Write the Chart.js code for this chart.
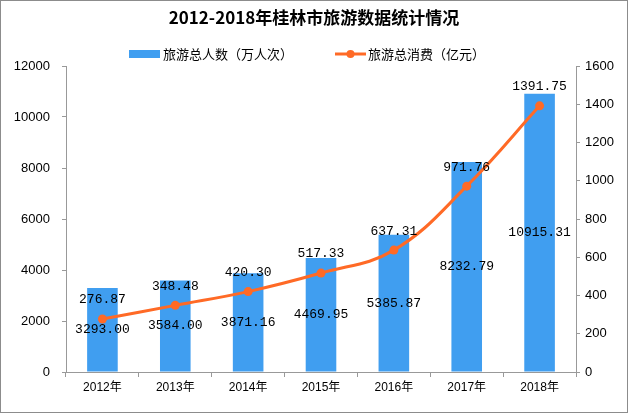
<!DOCTYPE html>
<html>
<head>
<meta charset="utf-8">
<script src="https://cdn.jsdelivr.net/npm/chart.js@4/dist/chart.umd.min.js"></script>
<style>
  html, body { margin: 0; padding: 0; background: #fff; }
  #wrap { width: 628px; height: 413px; position: relative; }
</style>
</head>
<body>
<div id="wrap"><canvas id="chart" width="628" height="413"></canvas></div>
<script>
// chart data
const years = ['2012年', '2013年', '2014年', '2015年', '2016年', '2017年', '2018年'];
const visitors = [3293.00, 3584.00, 3871.16, 4469.95, 5385.87, 8232.79, 10915.31];
const spending = [276.87, 348.48, 420.30, 517.33, 637.31, 971.76, 1391.75];
const visitorsLabel = '旅游总人数（万人次）';
const spendingLabel = '旅游总消费（亿元）';

const barColor = '#409EF0';
const lineColor = '#FF6A26';
const axisColor = '#999999';
const cjk = '"Liberation Sans", "Noto Sans CJK SC", sans-serif';

// draws value labels, legend and outer border
const extras = {
    id: 'extras',
    afterDatasetsDraw(chart) {
        const ctx = chart.ctx;
        ctx.save();
        ctx.font = '13px "Liberation Mono", "DejaVu Sans Mono", monospace';
        ctx.fillStyle = '#000';
        ctx.textAlign = 'center';
        ctx.textBaseline = 'middle';

        const bars = chart.getDatasetMeta(0).data;
        bars.forEach((bar, i) => {
            ctx.fillText(visitors[i].toFixed(2), bar.x, (bar.y + bar.base) / 2);
        });
        const pts = chart.getDatasetMeta(1).data;
        pts.forEach((pt, i) => {
            ctx.fillText(spending[i].toFixed(2), pt.x, pt.y - 19);
        });

        // legend
        ctx.font = '13px "Noto Sans CJK SC", sans-serif';
        ctx.textAlign = 'left';
        ctx.fillStyle = barColor;
        ctx.fillRect(129, 50, 31, 8);
        ctx.fillStyle = '#000';
        ctx.fillText(visitorsLabel, 163, 54);

        ctx.strokeStyle = lineColor;
        ctx.lineWidth = 3;
        ctx.beginPath();
        ctx.moveTo(335, 54);
        ctx.lineTo(366, 54);
        ctx.stroke();
        ctx.fillStyle = lineColor;
        ctx.beginPath();
        ctx.arc(350.5, 54, 4, 0, Math.PI * 2);
        ctx.fill();
        ctx.fillStyle = '#000';
        ctx.fillText(spendingLabel, 368, 54);

        // frame
        ctx.strokeStyle = '#8c8c8c';
        ctx.lineWidth = 1;
        ctx.strokeRect(0.5, 0.5, chart.width - 1, chart.height - 1);
        ctx.restore();
    }
};

const plain = (v) => String(v);

const ctx = document.getElementById('chart').getContext('2d');
new Chart(ctx, {
    data: {
        labels: years,
        datasets: [
            {
                type: 'bar',
                label: visitorsLabel,
                data: visitors,
                backgroundColor: barColor,
                barPercentage: 0.42,
                categoryPercentage: 1,
                yAxisID: 'y',
                order: 2
            },
            {
                type: 'line',
                label: spendingLabel,
                data: spending,
                borderColor: lineColor,
                backgroundColor: lineColor,
                borderWidth: 3,
                pointRadius: 4.5,
                pointBackgroundColor: lineColor,
                pointBorderWidth: 0,
                tension: 0.4,
                yAxisID: 'y1',
                order: 1
            }
        ]
    },
    options: {
        responsive: false,
        animation: false,
        devicePixelRatio: 1,
        layout: { padding: { left: 0, right: 0, top: 0, bottom: 0 } },
        plugins: {
            legend: { display: false },
            tooltip: { enabled: false },
            title: {
                display: true,
                text: '2012-2018年桂林市旅游数据统计情况',
                color: '#000',
                font: { family: '"Noto Sans CJK SC", sans-serif', size: 17, weight: 'bold', lineHeight: 1.2 },
                padding: { top: 7, bottom: 38.6 }
            }
        },
        scales: {
            x: {
                grid: { display: true, drawOnChartArea: false, drawTicks: true, tickLength: 5, color: axisColor, offset: true },
                border: { display: true, color: axisColor },
                ticks: { color: '#000', font: { family: cjk, size: 12 }, padding: 3, maxRotation: 0 },
                afterFit(scale) { scale.height = 41; }
            },
            y: {
                position: 'left',
                min: 0, max: 12000,
                grid: { display: true, drawOnChartArea: false, drawTicks: true, tickLength: 4, color: axisColor },
                border: { display: true, color: axisColor },
                ticks: { stepSize: 2000, color: '#000', font: { family: cjk, size: 13 }, padding: 12, callback: plain },
                afterFit(scale) { scale.width = 66; }
            },
            y1: {
                position: 'right',
                min: 0, max: 1600,
                grid: { display: true, drawOnChartArea: false, drawTicks: true, tickLength: 4, color: axisColor },
                border: { display: true, color: axisColor },
                ticks: { stepSize: 200, color: '#000', font: { family: cjk, size: 13 }, padding: 5, callback: plain },
                afterFit(scale) { scale.width = 52; }
            }
        }
    },
    plugins: [extras]
});
</script>
</body>
</html>
